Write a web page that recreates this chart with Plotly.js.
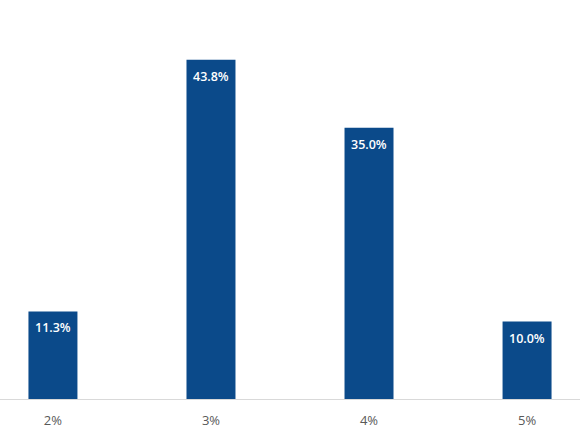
<!DOCTYPE html>
<html><head><meta charset="utf-8">
<script src="https://cdn.plot.ly/plotly-3.0.1.min.js"></script>
<style>html,body{margin:0;padding:0;background:#fff;}#chart{width:580px;height:435px;}</style>
</head><body><div id="chart"></div>
<script>
var categories = ["2%", "3%", "4%", "5%"];
var values = [11.3, 43.8, 35.0, 10.0];
var labels = ["11.3%", "43.8%", "35.0%", "10.0%"];

var trace = {
  type: "bar",
  x: categories,
  y: values,
  marker: {color: "#0B4A8A"},
  hoverinfo: "none"
};
var annotations = categories.map(function(c, i){
  return {x: c, y: values[i], xref: "x", yref: "y", text: labels[i], showarrow: false,
    yanchor: "top", yshift: -6,
    font: {family: "Open Sans, Liberation Sans, sans-serif", size: 12.5, color: "#ffffff", weight: 600}};
});
var layout = {
  width: 580, height: 435,
  margin: {l: 0, r: 0, t: 0, b: 36, pad: 0},
  paper_bgcolor: "#ffffff", plot_bgcolor: "#ffffff",
  bargap: 0.69,
  showlegend: false,
  xaxis: {type: "category", range: [-0.335, 3.335], showgrid: false, zeroline: false,
    showline: true, linecolor: "#d9d9d9", linewidth: 1, ticks: "", ticklabelstandoff: 9,
    tickfont: {family: "Open Sans, Liberation Sans, sans-serif", size: 13, color: "#595959"}},
  yaxis: {range: [0, 51.5], showgrid: false, zeroline: false, showticklabels: false, showline: false},
  annotations: annotations
};
Plotly.newPlot("chart", [trace], layout, {displayModeBar: false, staticPlot: true});
</script></body></html>
